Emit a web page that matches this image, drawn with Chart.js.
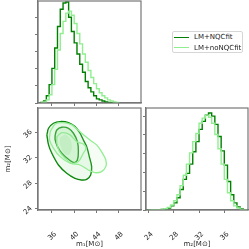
<!DOCTYPE html>
<html>
<head>
<meta charset="utf-8">
<script src="https://cdn.jsdelivr.net/npm/chart.js@4/dist/chart.umd.min.js"></script>
<style>
html,body{margin:0;padding:0;background:#fff;width:249px;height:249px;overflow:hidden;font-family:'DejaVu Sans',sans-serif;}
canvas{position:absolute;}
#legend{position:absolute;left:172px;top:31px;width:71px;height:22px;border:1px solid #d6d6d6;border-radius:2px;background:#fff;box-sizing:border-box;}
.row{position:absolute;left:0;height:10px;line-height:10px;font-size:7px;color:#222;white-space:nowrap;}
.ln{position:absolute;left:1px;top:4.5px;width:15px;height:1.4px;}
.tx{position:absolute;left:21px;top:0;}
</style>
</head>
<body>
<canvas id="cA" width="145" height="108" style="left:0;top:0"></canvas>
<canvas id="cB" width="145" height="145" style="left:0;top:104px"></canvas>
<canvas id="cC" width="107" height="145" style="left:142px;top:104px"></canvas>
<div id="legend">
  <div class="row" style="top:0px;width:70px"><span class="ln" style="background:#008000"></span><span class="tx">LM+NQCfit</span></div>
  <div class="row" style="top:10.5px;width:70px"><span class="ln" style="background:#90ee90"></span><span class="tx">LM+noNQCfit</span></div>
</div>
<script>
// ---------------- DATA ----------------
const seriesNames = ['LM+NQCfit', 'LM+noNQCfit'];
const m1Ticks = [36, 40, 44, 48];
const m2Ticks = [24, 28, 32, 36];
const histTicksM1 = [0, 1, 2, 3, 4, 5];
const histTicksM2 = [0, 1, 2, 3, 4, 5];

const m1Edges = [34.0,34.5,35.0,35.5,36.0,36.5,37.0,37.5,38.0,38.5,39.0,39.5,40.0,40.5,41.0,41.5,42.0,42.5,43.0,43.5,44.0,44.5,45.0,45.5,46.0,46.5,47.0,47.5,48.0];
const m1NQC   = [0.03,0.12,0.42,1.07,2.02,3.21,4.46,5.47,5.83,5.89,5.0,4.17,3.51,2.86,2.26,1.79,1.25,0.89,0.65,0.42,0.24,0.18,0.12,0.06,0.03,0.02,0,0];
const m1NoNQC = [0,0.06,0.18,0.48,1.07,1.96,3.09,4.05,4.76,5.24,5.36,5.12,4.64,4.05,3.45,2.86,2.38,1.9,1.49,1.13,0.83,0.6,0.42,0.3,0.18,0.12,0.06,0.03];

const m2Edges = [24.0,24.5,25.0,25.5,26.0,26.5,27.0,27.5,28.0,28.5,29.0,29.5,30.0,30.5,31.0,31.5,32.0,32.5,33.0,33.5,34.0,34.5,35.0,35.5,36.0,36.5,37.0,37.5,38.0,38.5,39.0,39.5];
const m2NQC   = [0.003,0.003,0.005,0.01,0.03,0.05,0.11,0.22,0.38,0.65,1.09,1.63,1.95,2.44,3.1,3.64,4.29,4.72,5.05,5.16,5.0,4.56,3.91,3.15,2.39,1.52,0.81,0.38,0.16,0.05,0.02];
const m2NoNQC = [0.005,0.01,0.016,0.02,0.03,0.07,0.14,0.27,0.49,0.81,1.3,1.85,2.44,3.04,3.64,4.07,4.62,4.89,5.05,4.94,4.62,4.02,3.26,2.44,1.63,0.92,0.49,0.22,0.11,0.03,0.01];

// 2D credible contours (m1, m2)
const nqcOuterM1 = [35.10,35.40,36.29,37.48,38.97,40.15,41.05,41.64,42.24,42.71,43.13,42.95,42.24,41.34,40.15,38.67,37.18,35.99,35.40,35.10];
const nqcOuterM2 = [35.58,36.62,37.41,37.67,37.51,36.88,35.84,34.79,33.74,32.17,30.60,29.29,28.61,28.51,28.77,29.56,30.86,32.70,34.01,35.58];
const nqcInnerM1 = [36.59,36.89,37.78,38.97,39.86,40.57,40.75,40.57,39.98,38.97,37.78,37.00,36.59,36.59];
const nqcInnerM2 = [35.58,36.36,36.78,36.62,35.84,34.53,32.96,31.65,31.23,31.76,32.70,33.74,34.79,35.58];
const noOuterM1 = [35.70,36.59,38.07,39.56,41.34,42.83,44.02,44.91,45.68,45.68,44.91,43.72,42.53,41.05,39.26,37.48,36.29,35.58,35.70];
const noOuterM2 = [36.10,37.30,37.51,37.15,35.84,34.79,34.01,32.96,31.65,30.60,29.82,29.66,30.08,30.86,31.13,32.17,33.48,34.79,36.10];
const noInnerM1 = [36.89,37.78,39.26,40.45,41.64,42.12,41.64,40.75,39.56,38.37,37.36,36.89,36.89];
const noInnerM2 = [35.31,35.94,35.58,34.53,34.16,33.48,32.70,31.39,31.13,31.92,32.96,34.27,35.31];
const coreM1 = [37.5,38.4,39.3,39.6,39.2,38.5,37.8,37.4,37.5];
const coreM2 = [35.2,35.6,34.9,33.6,32.6,32.5,33.3,34.3,35.2];

// ---------------- HELPERS ----------------
const DARK = '#008000', LIGHT = '#90ee90';
const AXIS = '#777', TXT = '#262626';
Chart.defaults.font.family = "'DejaVu Sans', sans-serif";
Chart.defaults.font.size = 7;
Chart.defaults.color = TXT;

function stepPts(edges, vals) {
  const p = [{x: edges[0], y: 0}];
  for (let i = 0; i < vals.length; i++) p.push({x: edges[i], y: vals[i]});
  p.push({x: edges[vals.length], y: 0});
  return p;
}
function poly(xs, ys) { return xs.map((x, i) => ({x, y: ys[i]})); }

const frame = {
  id: 'frame',
  afterDraw(c) {
    const {ctx, chartArea: a} = c;
    ctx.save(); ctx.strokeStyle = AXIS; ctx.lineWidth = 1.2;
    ctx.strokeRect(a.left, a.top, a.right - a.left, a.bottom - a.top);
    ctx.restore();
  }
};

function fixTicks(list) { return s => { s.ticks = list.map(v => ({value: v})); }; }
function fitSize(dim, v) {
  return s => { s[dim] = v; s.paddingTop = 0; s.paddingBottom = 0; s.paddingLeft = 0; s.paddingRight = 0; };
}
function axis(o) {
  return Object.assign({
    type: 'linear',
    grid: {display: true, drawOnChartArea: false, drawTicks: true, tickLength: 3, color: AXIS, lineWidth: 1},
    border: {display: true, color: AXIS, width: 1.2},
  }, o);
}
const commonOpts = {responsive: false, animation: false, devicePixelRatio: 1,
  plugins: {legend: {display: false}, tooltip: {enabled: false}},
  elements: {point: {radius: 0}}};

function histDS(pts, color, w) {
  return {data: pts, borderColor: color, borderWidth: w, stepped: 'before', fill: false, pointRadius: 0, tension: 0};
}

// ---------------- PANEL A: m1 histogram ----------------
new Chart(document.getElementById('cA'), {
  type: 'line',
  data: {datasets: [
    histDS(stepPts(m1Edges, m1NoNQC), LIGHT, 1.4),
    histDS(stepPts(m1Edges, m1NQC), DARK, 1.4)
  ]},
  options: Object.assign({}, commonOpts, {
    layout: {padding: {top: 1, right: 4, left: 0, bottom: 0}},
    scales: {
      x: axis({min: 33.5, max: 52, afterBuildTicks: fixTicks(m1Ticks), afterFit: fitSize('height', 5), ticks: {display: false}}),
      y: axis({min: 0, max: 5.95, afterBuildTicks: fixTicks(histTicksM1), afterFit: fitSize('width', 38), ticks: {display: false}})
    }
  }),
  plugins: [frame]
});

// ---------------- PANEL B: 2D contours ----------------
function contourDS(pts, color, w, fillColor) {
  return {data: pts, borderColor: color, borderWidth: w, backgroundColor: fillColor || 'rgba(0,0,0,0)',
    fill: fillColor ? 'shape' : false, pointRadius: 0, tension: 0.3, showLine: true};
}
new Chart(document.getElementById('cB'), {
  type: 'line',
  data: {datasets: [
    contourDS(poly(noOuterM1, noOuterM2), 'rgba(0,0,0,0)', 0, 'rgba(170,235,170,0.12)'),
    contourDS(poly(nqcOuterM1, nqcOuterM2), 'rgba(0,0,0,0)', 0, 'rgba(160,230,160,0.18)'),
    contourDS(poly(nqcInnerM1, nqcInnerM2), 'rgba(0,0,0,0)', 0, 'rgba(130,218,130,0.22)'),
    contourDS(poly(coreM1, coreM2), 'rgba(0,0,0,0)', 0, 'rgba(110,208,110,0.20)'),
    contourDS(poly(noOuterM1, noOuterM2), LIGHT, 1.3),
    contourDS(poly(noInnerM1, noInnerM2), LIGHT, 1.3),
    contourDS(poly(nqcOuterM1, nqcOuterM2), DARK, 1.4),
    contourDS(poly(nqcInnerM1, nqcInnerM2), DARK, 1.4)
  ]},
  options: Object.assign({}, commonOpts, {
    layout: {padding: {top: 4, right: 4, left: 0, bottom: 0}},
    scales: {
      x: axis({min: 33.5, max: 52, afterBuildTicks: fixTicks(m1Ticks), afterFit: fitSize('height', 39),
        ticks: {minRotation: 45, maxRotation: 45, padding: 17, labelOffset: 3.5, autoSkip: false},
        title: {display: true, text: 'm\u2081[M\u2299]', font: {size: 7}, padding: {top: 0, bottom: 1}}}),
      y: axis({min: 23.8, max: 39.8, afterBuildTicks: fixTicks(m2Ticks), afterFit: fitSize('width', 38),
        ticks: {minRotation: 45, maxRotation: 45, padding: 4, labelOffset: -1.5, autoSkip: false},
        title: {display: true, text: 'm\u2082[M\u2299]', font: {size: 7}, padding: {top: 4, bottom: 0}}})
    }
  }),
  plugins: [frame]
});

// ---------------- PANEL C: m2 histogram ----------------
new Chart(document.getElementById('cC'), {
  type: 'line',
  data: {datasets: [
    histDS(stepPts(m2Edges, m2NoNQC), LIGHT, 1.4),
    histDS(stepPts(m2Edges, m2NQC), DARK, 1.4)
  ]},
  options: Object.assign({}, commonOpts, {
    layout: {padding: {top: 4, right: 1, left: 0, bottom: 0}},
    scales: {
      x: axis({min: 23.6, max: 39.75, afterBuildTicks: fixTicks(m2Ticks), afterFit: fitSize('height', 39),
        ticks: {minRotation: 45, maxRotation: 45, padding: 17, labelOffset: 3.5, autoSkip: false},
        title: {display: true, text: 'm\u2082[M\u2299]', font: {size: 7}, padding: {top: 0, bottom: 1}}}),
      y: axis({min: 0, max: 5.43, afterBuildTicks: fixTicks(histTicksM2), afterFit: fitSize('width', 4), ticks: {display: false}})
    }
  }),
  plugins: [frame]
});
</script>
</body>
</html>
